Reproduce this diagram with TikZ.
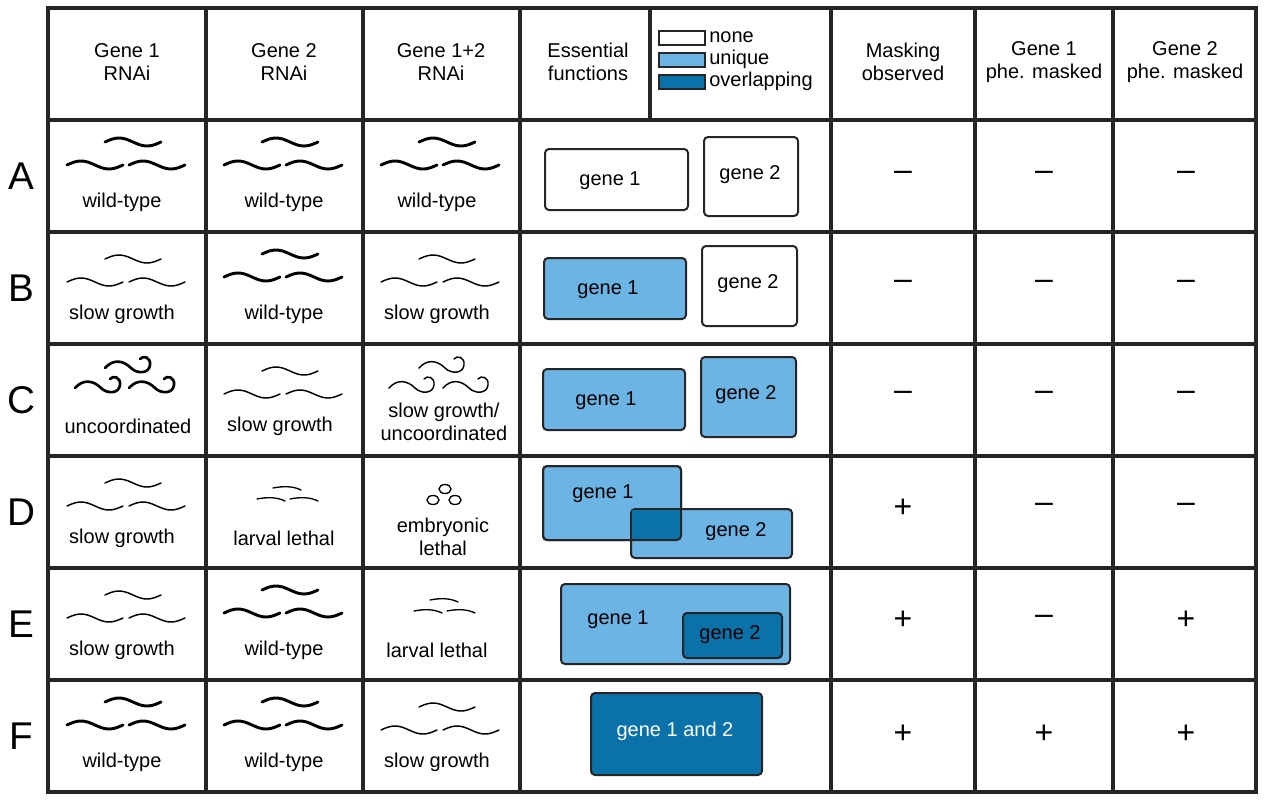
\documentclass[tikz,border=0pt]{standalone}
\usepackage{fontspec}
\setmainfont{Liberation Sans}
\usetikzlibrary{positioning}
\definecolor{uniq}{HTML}{6CB4E4}
\definecolor{ovl}{HTML}{0A72A8}
\tikzset{
  grid line/.style={line width=2.3pt,draw=black!85},
  gene box/.style={draw=black!85,line width=1.5pt,rounded corners=3pt},
  txt/.style={font=\fontsize{15}{17}\selectfont,align=center,inner sep=0pt},
  sign/.style={font=\fontsize{24}{26}\selectfont,inner sep=0pt},
  rowlab/.style={font=\fontsize{29}{30}\selectfont,inner sep=0pt},
  % one wavy worm
  worm/.pic={\draw[line cap=round] plot[domain=0:1,samples=25,smooth] ({56*\x},{-4*sin(360*\x)});},
  worms/.pic={\foreach \a/\b in {-22/-13,-60/10,2/10} \pic[shift={(\a,\b)}] {worm};},
  curl/.pic={\draw[line cap=round] (0,0) .. controls (8,-9) and (18,-8) .. (26,0)
      .. controls (32,6) and (44,6) .. (45,-3) .. controls (46,-11) and (38,-13) .. (35,-9);},
  curls/.pic={\foreach \a/\b in {-22/-12,-52/8,2/8} \pic[shift={(\a,\b)}] {curl};},
  larva/.pic={\draw[line cap=round] (0,0) .. controls (10,-2) and (20,-2) .. (28,2);},
  larvae/.pic={\foreach \a/\b in {-11/-6,-27/5,6/5} \pic[shift={(\a,\b)}] {larva};},
  eggs/.pic={\foreach \a/\b in {4/-6,-8/5,14/5} \draw (\a,\b) ellipse (6 and 4.5);}
}
\begin{document}
\begin{tikzpicture}[x=0.75pt,y=-0.75pt]
\useasboundingbox (0,0) rectangle (1265,800);
% table
\draw[grid line] (48,8) rectangle (1256,792);
\foreach \x in {206,363,520,831,975,1113} \draw[grid line] (\x,8) -- (\x,792);
\draw[grid line] (650,8) -- (650,120);
\foreach \y in {120,232,344,456,568,680} \draw[grid line] (48,\y) -- (1256,\y);
% header
\node[txt] (h1) at (127,62) {Gene 1\\RNAi};
\node[txt] (h2) at (284,62) {Gene 2\\RNAi};
\node[txt] (h3) at (441,62) {Gene 1+2\\RNAi};
\node[txt] (h4) at (588,62) {Essential\\functions};
\node[txt] (h5) at (903,62) {Masking\\observed};
\node[txt] (h6) at (1044,62) {Gene 1\\phe. masked};
\node[txt] (h7) at (1185,62) {Gene 2\\phe. masked};
% legend
\foreach \c/\t/\y in {white/none/38,uniq/unique/60,ovl/overlapping/82}{
  \draw[draw=black!85,line width=1pt,fill=\c] (659,\y-7) rectangle (705,\y+7);
  \node[txt,anchor=west] (lg\t) at (709,\y-1) {\t};
}
% row letters
\foreach \l [count=\i] in {A,B,C,D,E,F}
  \node[rowlab] (r\l) at (21,64+112*\i) {\l};
% phenotypes
\pic[line width=2.2pt] at (127,155) {worms};
\pic[line width=2.2pt] at (284,155) {worms};
\pic[line width=2.2pt] at (441,155) {worms};
\pic[scale=0.67,line width=1.1pt] at (127,272) {worms};
\pic[line width=2.2pt] at (284,267) {worms};
\pic[scale=0.67,line width=1.1pt] at (441,272) {worms};
\pic[line width=2pt] at (127,380) {curls};
\pic[scale=0.67,line width=1.1pt] at (284,384) {worms};
\pic[scale=0.72,line width=1.1pt] at (441,380) {curls};
\pic[scale=0.67,line width=1.1pt] at (127,496) {worms};
\pic[line width=1pt] at (284,494) {larvae};
\pic[line width=1pt] at (441,495) {eggs};
\pic[scale=0.67,line width=1.1pt] at (127,608) {worms};
\pic[line width=2.2pt] at (284,603) {worms};
\pic[line width=1pt] at (441,606) {larvae};
\pic[line width=2.2pt] at (127,715) {worms};
\pic[line width=2.2pt] at (284,715) {worms};
\pic[scale=0.67,line width=1.1pt] at (441,720) {worms};
\foreach \r/\y/\a/\b/\c in {A/202/wild-type/wild-type/wild-type,
  B/314/slow growth/wild-type/slow growth,
  D/538/slow growth/larval lethal/{},
  E/650/slow growth/wild-type/larval lethal,
  F/762/wild-type/wild-type/slow growth}{
  \node[txt] (p\r1) at (122,\y) {\a};
  \node[txt] (p\r2) at (284,\y) {\b};
  \node[txt] (p\r3) at (437,\y) {\c};
}
\node[txt] (pC1) at (128,426) {uncoordinated};
\node[txt] (pC2) at (280,426) {slow growth};
\node[txt] (pC3) at (444,422) {slow growth/\\uncoordinated};
\node[txt] (pD3) at (443,537) {embryonic\\lethal};
% essential functions
\draw[gene box,fill=white] (545,149) rectangle (688,210);
\draw[gene box,fill=white] (704,137) rectangle (798,216);
\node[txt] (aA1) at (610,181) {gene 1};
\node[txt] (aA2) at (750,175) {gene 2};
\draw[gene box,fill=uniq] (544,258) rectangle (686,319);
\draw[gene box,fill=white] (702,246) rectangle (797,326);
\node[txt] (aB1) at (608,290) {gene 1};
\node[txt] (aB2) at (748,284) {gene 2};
\draw[gene box,fill=uniq] (543,369) rectangle (685,430);
\draw[gene box,fill=uniq] (701,357) rectangle (796,437);
\node[txt] (aC1) at (606,401) {gene 1};
\node[txt] (aC2) at (746,395) {gene 2};
\draw[gene box,fill=uniq] (543,466) rectangle (681,540);
\draw[gene box,fill=uniq] (631,509) rectangle (792,558);
\fill[ovl] (631.75,509.75) rectangle (680.25,539.25);
\draw[gene box] (543,466) rectangle (681,540);
\node[txt] (aD1) at (603,494) {gene 1};
\node[txt] (aD2) at (736,532) {gene 2};
\draw[gene box,fill=uniq] (561,584) rectangle (790,664);
\draw[gene box,fill=ovl] (683,613) rectangle (782,658);
\node[txt] (aE1) at (618,620) {gene 1};
\node[txt] (aE2) at (730,635) {gene 2};
\draw[gene box,fill=ovl] (591,693) rectangle (762,775);
\node[txt,text=white] (aF) at (675,731) {gene 1 and 2};
% masking
\foreach \r/\y/\m/\p/\q in {A/176/--/--/--,B/285/--/--/--,C/396/--/--/--,
  D/508/+/--/--,E/620/+/--/+,F/734/+/+/+}{
  \node[sign] (m\r1) at (903,\y) {\m};
  \node[sign] (m\r2) at (1044,\y) {\p};
  \node[sign] (m\r3) at (1186,\y) {\q};
}
\end{tikzpicture}
\end{document}
